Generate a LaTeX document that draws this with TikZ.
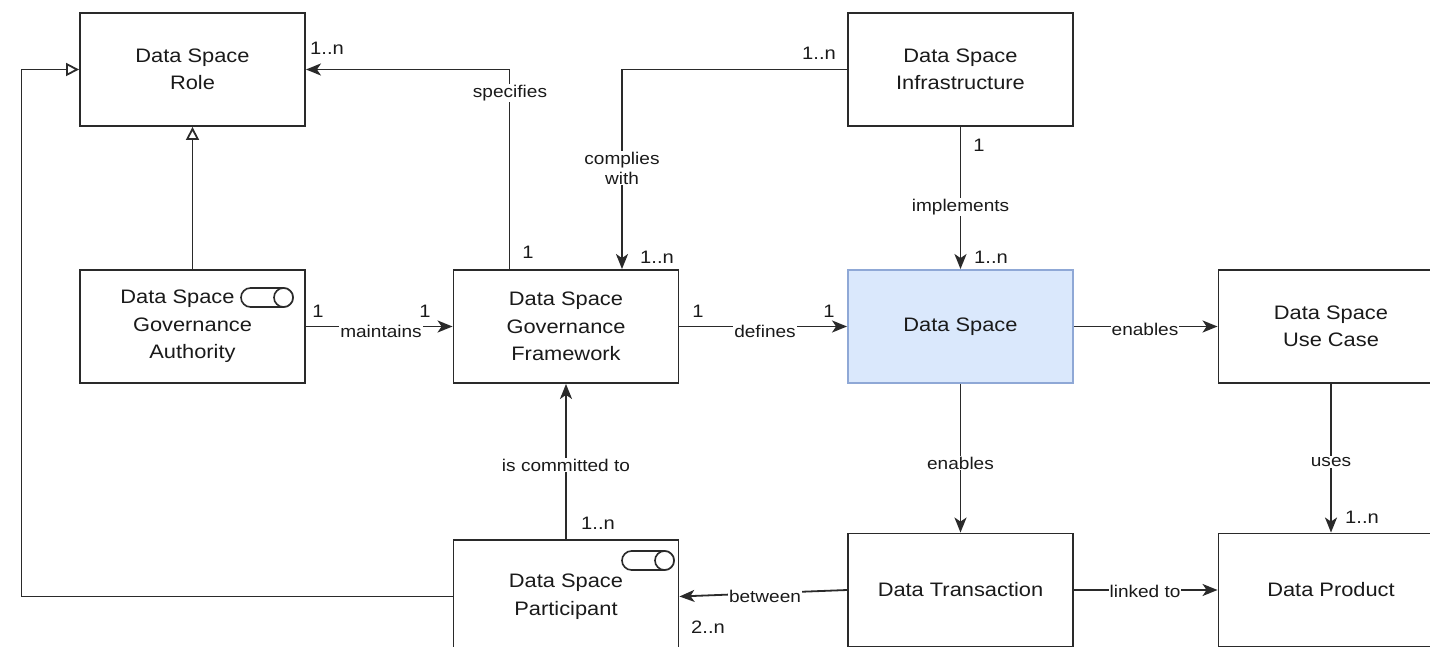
\documentclass[tikz,border=0pt]{standalone}
\usepackage{fontspec}
\setmainfont{Liberation Sans}[FakeStretch=1.12]
\usetikzlibrary{arrows.meta}
\definecolor{ln}{HTML}{2A2A2A}
\definecolor{tx}{HTML}{1A1A1A}
\definecolor{dsfill}{HTML}{DAE8FC}
\definecolor{dsline}{HTML}{8FA8D6}
\tikzset{
  box/.style={draw=ln, line width=1.9pt, fill=white, minimum width=225pt, minimum height=113pt, align=center, text=tx, font=\fontsize{19.5}{27.5}\selectfont, inner sep=0pt},
  arr/.style={draw=ln, line width=1.8pt, -{Stealth[length=15pt,width=12pt,inset=4pt]}},
  otri/.style={draw=ln, line width=1.8pt, -{Triangle[open,length=13pt,width=13pt,fill=white]}},
  lbl/.style={fill=white, text=tx, font=\fontsize{17}{20}\selectfont, inner sep=1pt, align=center},
  mult/.style={text=tx, font=\fontsize{18}{20}\selectfont, inner sep=0pt},
  toggle/.style={draw=ln, line width=1.6pt}
}
\begin{document}
\begin{tikzpicture}[x=1pt,y=-1pt]
\useasboundingbox (0,0) rectangle (1430,647);
% boxes
\node[box] (role) at (192.5,69.5) {Data Space\\Role};
\node[box] (auth) at (192.5,326.5) {Data Space\hspace*{30pt}\\Governance\\Authority};
\node[box] (fw) at (566,326.5) {Data Space\\Governance\\Framework};
\node[box] (infra) at (960.5,69.5) {Data Space\\Infrastructure};
\node[box, fill=dsfill, draw=dsline] (ds) at (960.5,326.5) {Data Space};
\node[box] (uc) at (1331,326.5) {Data Space\\Use Case};
\node[box] (part) at (566,596.5) {Data Space\\Participant};
\node[box] (tx) at (960.5,590) {Data Transaction};
\node[box] (dp) at (1331,590) {Data Product};
% toggle icons
\draw[toggle, rounded corners=9.5pt] (241,288) rectangle (293,307);
\draw[toggle, fill=white] (283.5,297.5) circle (9.5);
\draw[toggle, rounded corners=9.5pt] (622,551) rectangle (674,570);
\draw[toggle, fill=white] (664.5,560.5) circle (9.5);
% generalisations
\draw[otri] (auth.north) -- (role.south);
\draw[otri] (part.west) -- ++(-431,0) |- (role.west);
% specifies
\draw[arr] ([xshift=-56.5pt]fw.north) |- (role.east);
\node[lbl] at (510,93) {specifies};
\node[mult] at (327,48) {1..n};
\node[mult] at (528,252) {1};
% complies with
\draw[arr] (infra.west) -| ([xshift=56pt]fw.north);
\node[lbl] at (622,168) {complies\\with};
\node[mult] at (819,53) {1..n};
\node[mult] at (657,257) {1..n};
% implements
\draw[arr] (infra.south) -- (ds.north);
\node[lbl] at (960.5,207) {implements};
\node[mult] at (979,145) {1};
\node[mult] at (991,257) {1..n};
% maintains
\draw[arr] (auth.east) -- (fw.west);
\node[lbl] at (381,331) {maintains};
\node[mult] at (318,311) {1};
\node[mult] at (425,311) {1};
% defines
\draw[arr] (fw.east) -- (ds.west);
\node[lbl] at (765,331) {defines};
\node[mult] at (698,311) {1};
\node[mult] at (829,311) {1};
% enables (use case)
\draw[arr] (ds.east) -- (uc.west);
\node[lbl] at (1145,329) {enables};
% enables (transaction)
\draw[arr] (ds.south) -- (tx.north);
\node[lbl] at (960.5,463) {enables};
% uses
\draw[arr] (uc.south) -- (dp.north);
\node[lbl] at (1331,462) {uses};
\node[mult] at (1362,517) {1..n};
% is committed to
\draw[arr] (part.north) -- (fw.south);
\node[lbl] at (566,465) {is committed to};
\node[mult] at (598,523) {1..n};
% between
\draw[arr] (tx.west) -- (part.east);
\node[lbl] at (765,596) {between};
\node[mult] at (708,627) {2..n};
% linked to
\draw[arr] (tx.east) -- (dp.west);
\node[lbl] at (1145,591) {linked to};
\end{tikzpicture}
\end{document}
